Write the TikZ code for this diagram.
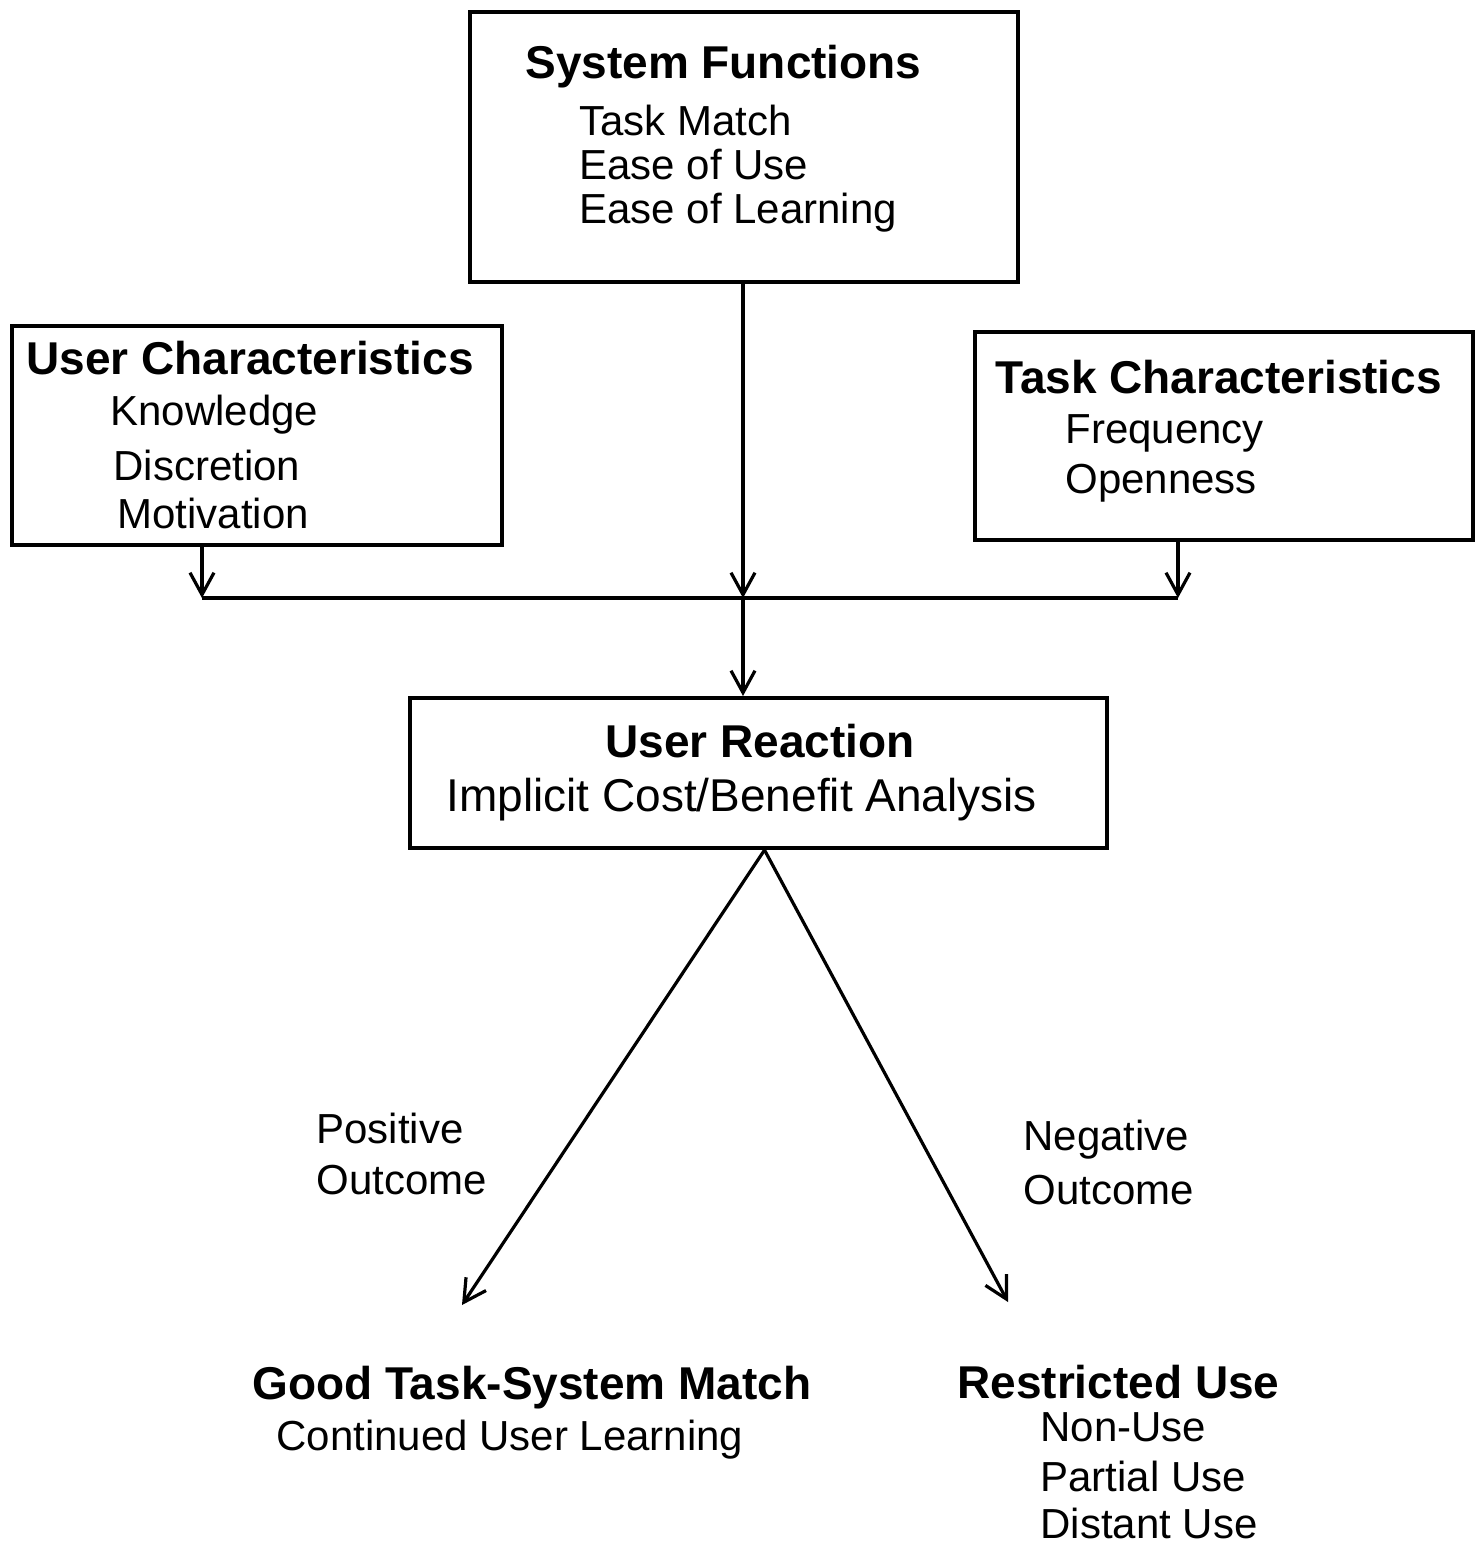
\documentclass[tikz,border=0pt]{standalone}
\usepackage{fontspec}
\setmainfont{Liberation Sans}
\usetikzlibrary{arrows.meta}
\begin{document}
\begin{tikzpicture}[x=0.5pt,y=-0.5pt,
  box/.style={draw,line width=2pt,inner sep=0pt},
  ttl/.style={font=\fontsize{23}{26}\selectfont\bfseries,anchor=west,inner sep=0pt},
  itm/.style={font=\fontsize{21}{22}\selectfont,anchor=west,inner sep=0pt,align=left},
  conn/.style={line width=1.6pt},
  arr/.style={conn,-{Straight Barb[length=11pt,width=12pt,line width=1.6pt]}}
]
\useasboundingbox (0,0) rectangle (1477,1547);

% boxes
\node[box,minimum width=274pt,minimum height=135pt] (sf) at (744,147) {};
\node[box,minimum width=245pt,minimum height=109.5pt] (uc) at (257,435.5) {};
\node[box,minimum width=249pt,minimum height=104pt] (tc) at (1224,436) {};
\node[box,minimum width=348.5pt,minimum height=75pt] (ur) at (758.5,773) {};

% texts
\node[ttl] (sft) at (525,67) {System Functions};
\node[itm] (sfi) at (579,169) {Task Match\\Ease of Use\\Ease of Learning};

\node[ttl] (uct) at (26,358) {User Characteristics};
\node[itm] (uc1) at (110,415) {Knowledge};
\node[itm] (uc2) at (113,465) {Discretion};
\node[itm] (uc3) at (117,513) {Motivation};

\node[ttl] (tct) at (995,377) {Task Characteristics};
\node[itm] (tc1) at (1065,433) {Frequency};
\node[itm] (tc2) at (1065,483) {Openness};

\node[ttl] (urt) at (605,741) {User Reaction};
\node[itm,font=\fontsize{23}{26}\selectfont] (ur1) at (446,800) {Implicit Cost/Benefit Analysis};

\node[itm] (pos1) at (316,1128) {Positive};
\node[itm] (pos2) at (316,1180) {Outcome};
\node[itm] (neg1) at (1023,1140) {Negative};
\node[itm] (neg2) at (1023,1190) {Outcome};

\node[ttl] (gt) at (252,1388) {Good Task-System Match};
\node[itm] (g1) at (276,1440) {Continued User Learning};

\node[ttl] (rt) at (957,1382) {Restricted Use};
\node[itm] (r1) at (1040,1427) {Non-Use};
\node[itm] (r2) at (1040,1476) {Partial Use};
\node[itm] (r3) at (1040,1523) {Distant Use};

% connectors
\coordinate (busL) at (202,598);
\coordinate (busC) at (743,598);
\coordinate (busR) at (1178,598);
\coordinate (gEnd) at (462,1305);
\coordinate (rEnd) at (1008,1302);

\draw[conn] (busL) -- (busR);
\draw[arr] (uc.south -| busL) -- (busL);
\draw[arr] (sf.south -| busC) -- (busC);
\draw[arr] (tc.south -| busR) -- (busR);
\draw[arr] (busC) -- (busC |- ur.north);
\draw[arr] ([xshift=3pt]ur.south) -- (gEnd);
\draw[arr] ([xshift=3pt]ur.south) -- (rEnd);
\end{tikzpicture}
\end{document}
